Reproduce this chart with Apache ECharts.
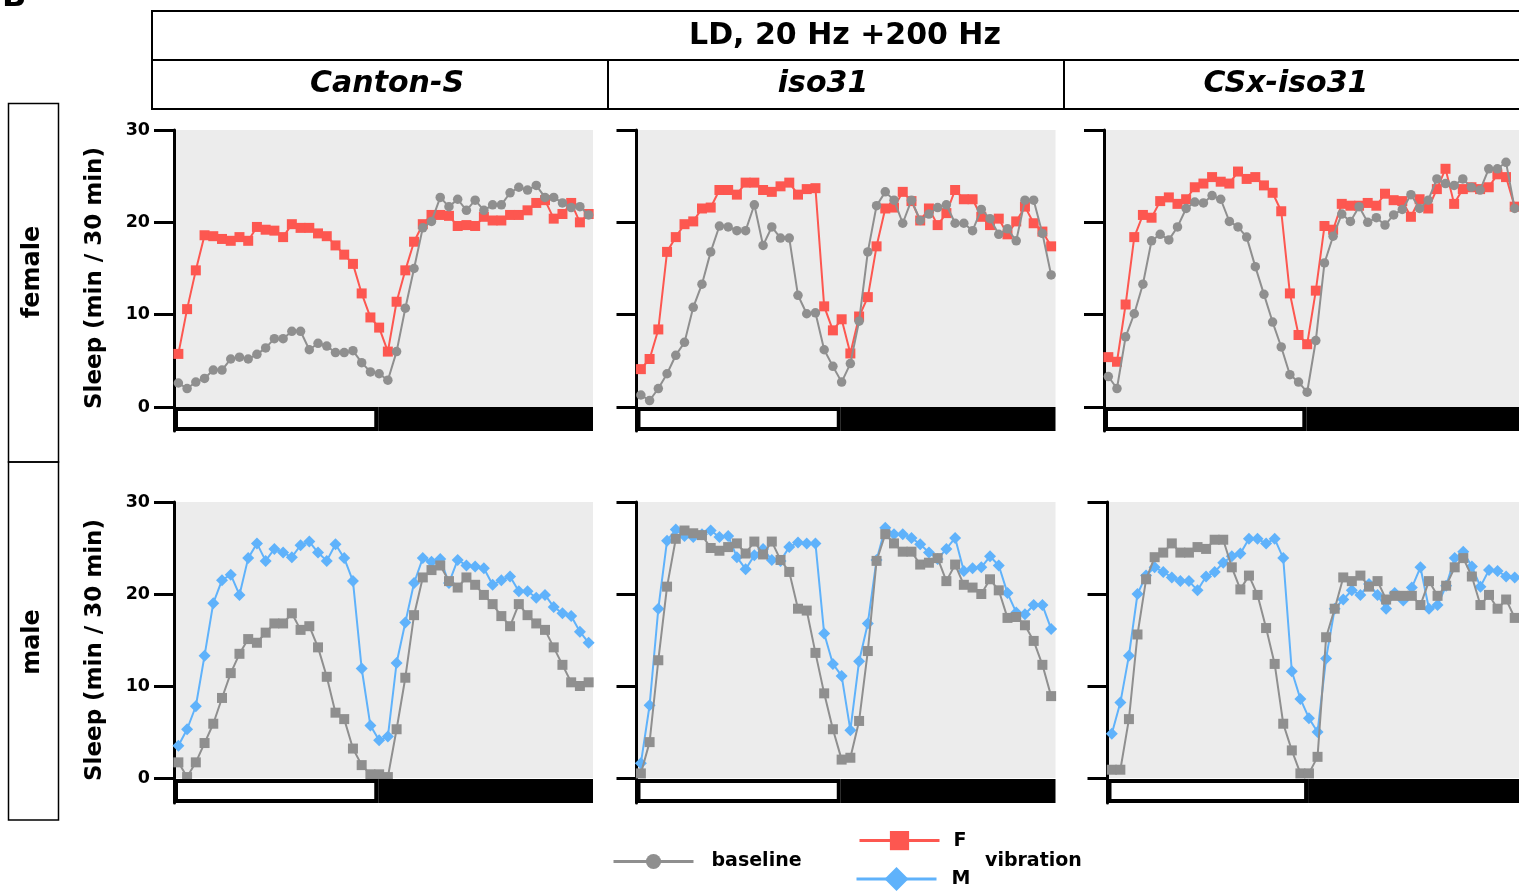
<!DOCTYPE html>
<html><head><meta charset="utf-8">
<script src="https://cdn.jsdelivr.net/npm/echarts@6/dist/echarts.min.js"></script>
<style>html,body{margin:0;padding:0;background:#fff}#c{width:1519px;height:895px}</style>
</head><body><div id="c"></div>
<script>
// ---------------- data ----------------
const mainTitle = 'LD, 20 Hz +200 Hz';
const strains = ['Canton-S', 'iso31', 'CSx-iso31'];
const sexes = ['female', 'male'];
const yAxisName = 'Sleep (min / 30 min)';
const yTicks = [0, 10, 20, 30];
const bins = [];
for (let i = 0; i < 48; i++) { bins.push('ZT' + (i * 0.5)); }
const ldPhaseNames = ['light', 'dark'];
const ldPhaseHours = [11.7, 12.3];

// female: baseline (grey circles) and vibration F (red squares)
const femaleBaseline_CantonS = [2.6,2.0,2.7,3.1,4.0,4.0,5.2,5.4,5.2,5.7,6.4,7.4,7.4,8.2,8.2,6.2,6.9,6.6,5.9,5.9,6.1,4.8,3.8,3.6,2.9,6.0,10.7,15.0,19.4,20.1,22.7,21.7,22.5,21.3,22.4,21.3,21.9,21.9,23.2,23.8,23.5,24.0,22.7,22.7,22.1,21.6,21.7,20.8];
const femaleVibration_CantonS = [5.75,10.6,14.8,18.6,18.5,18.2,18.0,18.4,18.0,19.5,19.2,19.1,18.4,19.8,19.4,19.4,18.8,18.5,17.5,16.5,15.5,12.3,9.7,8.6,6.0,11.4,14.8,17.9,19.8,20.8,20.8,20.7,19.6,19.7,19.6,20.6,20.2,20.2,20.8,20.8,21.3,22.1,22.4,20.4,20.9,22.1,20.0,20.9];
const femaleBaseline_iso31 = [1.3,0.7,2.0,3.6,5.6,7.0,10.8,13.3,16.8,19.6,19.5,19.1,19.1,21.9,17.5,19.5,18.3,18.3,12.1,10.1,10.2,6.2,4.4,2.7,4.7,9.3,16.8,21.8,23.3,22.4,19.9,22.4,20.2,20.9,21.6,21.9,19.9,19.9,19.1,21.4,20.4,18.7,19.3,18.0,22.4,22.4,18.8,14.3];
const femaleVibration_iso31 = [4.1,5.2,8.4,16.8,18.4,19.8,20.1,21.5,21.6,23.5,23.5,23.0,24.3,24.3,23.5,23.3,23.9,24.3,23.0,23.6,23.7,10.9,8.3,9.5,5.8,9.8,11.9,17.4,21.5,21.6,23.3,22.3,20.2,21.5,19.7,21.0,23.5,22.5,22.5,20.6,19.7,20.4,18.7,20.1,21.7,19.9,19.0,17.4];
const femaleBaseline_CSxIso31 = [3.3,2.0,7.6,10.1,13.3,18.0,18.7,18.1,19.5,21.5,22.2,22.1,22.9,22.5,20.1,19.5,18.4,15.2,12.2,9.2,6.5,3.5,2.7,1.6,7.2,15.6,18.5,20.9,20.1,21.7,20.0,20.5,19.7,20.8,21.4,23.0,21.5,22.4,24.7,24.2,24.0,24.7,23.8,23.5,25.8,25.8,26.5,21.5];
const femaleVibration_CSxIso31 = [5.4,4.9,11.1,18.4,20.8,20.5,22.3,22.7,22.0,22.5,23.8,24.2,24.9,24.4,24.2,25.5,24.7,24.9,24.0,23.2,21.2,12.3,7.8,6.8,12.6,19.6,19.2,22.0,21.8,21.8,22.1,21.8,23.1,22.4,22.3,20.6,22.5,21.5,23.6,25.8,22.0,23.6,23.8,23.6,23.8,25.2,24.9,21.7];

// male: baseline (grey squares) and vibration M (blue diamonds)
const maleBaseline_CantonS = [1.7,0.1,1.7,3.8,5.9,8.7,11.4,13.5,15.1,14.7,15.8,16.8,16.8,17.9,16.1,16.5,14.2,11.0,7.1,6.4,3.2,1.4,0.4,0.4,0.1,5.3,10.9,17.7,21.8,22.6,23.1,21.4,20.7,21.8,21.0,19.9,18.9,17.6,16.5,18.9,17.7,16.8,16.1,14.2,12.3,10.4,10.0,10.4];
const maleVibration_CantonS = [3.5,5.3,7.8,13.3,19.0,21.5,22.1,19.9,23.9,25.5,23.6,24.9,24.5,24.0,25.3,25.7,24.5,23.6,25.4,23.9,21.4,11.9,5.7,4.1,4.5,12.5,16.9,21.2,23.9,23.5,23.8,21.2,23.7,23.1,23.0,22.8,21.0,21.5,21.9,20.3,20.3,19.6,19.9,18.6,17.9,17.6,15.9,14.7];
const maleBaseline_iso31 = [0.5,3.9,12.8,20.8,26.0,26.9,26.6,26.4,25.0,24.7,25.1,25.5,24.4,25.7,24.3,25.7,23.7,22.4,18.4,18.2,13.6,9.2,5.3,2.0,2.2,6.2,13.8,23.6,26.5,25.5,24.6,24.6,23.2,23.4,23.9,21.4,23.2,21.0,20.7,20.0,21.6,20.4,17.4,17.5,16.6,14.9,12.3,8.9];
const maleVibration_iso31 = [1.6,7.9,18.4,25.8,27.0,26.3,26.2,26.5,26.9,26.2,26.3,24.0,22.7,24.2,24.9,23.7,23.6,25.1,25.6,25.5,25.5,15.7,12.4,11.1,5.2,12.7,16.8,23.7,27.2,26.5,26.5,26.1,25.4,24.5,23.8,24.9,26.1,22.5,22.8,22.9,24.1,23.1,20.1,18.0,17.8,18.8,18.8,16.2];
const maleBaseline_CSxIso31 = [0.9,0.9,6.4,15.6,21.6,24.0,24.5,25.5,24.5,24.5,25.1,24.9,25.9,25.9,22.9,20.5,22.0,19.9,16.3,12.4,5.9,3.0,0.5,0.5,2.3,15.3,18.4,21.8,21.4,22.0,20.8,21.4,19.4,19.8,19.8,19.8,18.8,21.4,19.8,20.9,22.9,23.9,21.9,18.8,19.9,18.4,19.4,17.4];
const maleVibration_CSxIso31 = [4.8,8.2,13.3,20.0,22.0,22.9,22.4,21.8,21.4,21.4,20.4,21.9,22.4,23.4,24.1,24.4,26.0,26.0,25.5,26.0,23.9,11.6,8.6,6.5,5.0,13.0,18.4,19.4,20.4,19.9,21.1,19.9,18.4,20.1,19.3,20.7,22.9,18.4,18.8,20.9,23.9,24.6,23.0,20.8,22.6,22.5,21.9,21.8];

const panels = [
  [[femaleBaseline_CantonS, femaleVibration_CantonS], [femaleBaseline_iso31, femaleVibration_iso31], [femaleBaseline_CSxIso31, femaleVibration_CSxIso31]],
  [[maleBaseline_CantonS, maleVibration_CantonS], [maleBaseline_iso31, maleVibration_iso31], [maleBaseline_CSxIso31, maleVibration_CSxIso31]]
];
const vibrationNames = ['F', 'M'];

// ---------------- styles / layout ----------------
const FONT = 'DejaVu Sans';
const GREY = '#8f8f8f', RED = '#fd5750', BLUE = '#5fb2fb', BG = '#ececec';
const rowTop = [130, 502], rowH = [277, 276];
const ldTop = [407, 779], ldH = 24;
const colLeft = [[174, 636.5, 1104], [174, 636.5, 1107.5]];
const colW = 419;
const vibColor = [RED, BLUE];
const vibSymbol = ['rect', 'diamond'];
const vibSize = [10, 12];
const baseSymbol = ['circle', 'rect'];
const baseSize = [9.5, 10];

const grid = [], xAxis = [], yAxis = [], series = [];
// main plot grids 0..5
for (let r = 0; r < 2; r++) {
  for (let c = 0; c < 3; c++) {
    const k = grid.length;
    grid.push({ left: colLeft[r][c], top: rowTop[r], width: colW, height: rowH[r], show: true, backgroundColor: BG, borderWidth: 0 });
    xAxis.push({ gridIndex: k, type: 'category', data: bins, boundaryGap: true, show: false });
    yAxis.push({ gridIndex: k, type: 'value', min: yTicks[0], max: yTicks[yTicks.length - 1], interval: 10,
      axisLine: { show: true, onZero: false, lineStyle: { color: '#000', width: 3 } },
      axisTick: { show: true, inside: false, length: 20, lineStyle: { color: '#000', width: 3 } },
      axisLabel: { show: c === 0, margin: 24, color: '#000', fontFamily: FONT, fontWeight: 'bold', fontSize: 17.5 },
      splitLine: { show: false } });
    const [base, vib] = panels[r][c];
    series.push({ name: vibrationNames[r], type: 'line', xAxisIndex: k, yAxisIndex: k, data: vib,
      symbol: vibSymbol[r], symbolSize: vibSize[r], color: vibColor[r], showAllSymbol: true,
      lineStyle: { width: 2, color: vibColor[r] }, itemStyle: { color: vibColor[r] }, z: 2, animation: false });
    series.push({ name: 'baseline', type: 'line', xAxisIndex: k, yAxisIndex: k, data: base,
      symbol: baseSymbol[r], symbolSize: baseSize[r], color: GREY, showAllSymbol: true,
      lineStyle: { width: 2, color: GREY }, itemStyle: { color: GREY }, z: 3, animation: false });
  }
}
// LD bars grids 6..11
for (let r = 0; r < 2; r++) {
  for (let c = 0; c < 3; c++) {
    const k = grid.length;
    grid.push({ left: colLeft[r][c], top: ldTop[r], width: colW, height: ldH, show: false });
    xAxis.push({ gridIndex: k, type: 'value', min: 0, max: 24, show: false });
    yAxis.push({ gridIndex: k, type: 'category', data: ['LD'], axisLine: { show: true, lineStyle: { color: '#000', width: 3 } },
      axisTick: { show: false }, axisLabel: { show: false } });
    ldPhaseNames.forEach((nm, p) => {
      series.push({ name: nm, type: 'bar', xAxisIndex: k, yAxisIndex: k, stack: 'ld' + k, data: [ldPhaseHours[p]],
        barWidth: '100%', silent: true, z: 4, animation: false,
        itemStyle: { color: p === 0 ? '#fff' : '#000', borderColor: '#000', borderWidth: 4 } });
    });
  }
}

const txt = (text, x, y, size, opts) => Object.assign({
  type: 'text', x: x, y: y,
  style: Object.assign({ text: text, fill: '#000', font: 'bold ' + size + 'px "' + FONT + '"', align: 'center', verticalAlign: 'middle' }, (opts && opts.style) || {})
}, opts && opts.el || {});

const lineG = (x1, y1, x2, y2, w) => ({ type: 'line', shape: { x1, y1, x2, y2 }, style: { stroke: '#000', lineWidth: w } });

const graphic = [
  txt('B', 2, 14, 32, { style: { align: 'left', verticalAlign: 'bottom' } }),
  { type: 'rect', shape: { x: 152, y: 11, width: 1420, height: 98 }, style: { fill: 'none', stroke: '#000', lineWidth: 2 } },
  lineG(152, 60, 1530, 60, 2),
  lineG(608, 60, 608, 109, 2),
  lineG(1064, 60, 1064, 109, 2),
  txt(mainTitle, 845, 36, 30),
  txt(strains[0], 387, 84, 30, { style: { font: 'italic bold 30px "' + FONT + '"' } }),
  txt(strains[1], 823, 84, 30, { style: { font: 'italic bold 30px "' + FONT + '"' } }),
  txt(strains[2], 1286, 84, 30, { style: { font: 'italic bold 30px "' + FONT + '"' } }),
  { type: 'rect', shape: { x: 8.5, y: 103.5, width: 50, height: 358.5 }, style: { fill: 'none', stroke: '#000', lineWidth: 1.5 } },
  { type: 'rect', shape: { x: 8.5, y: 462, width: 50, height: 358 }, style: { fill: 'none', stroke: '#000', lineWidth: 1.5 } },
  txt(sexes[0], 33, 272, 24, { el: { rotation: Math.PI / 2 } }),
  txt(sexes[1], 33, 642, 24, { el: { rotation: Math.PI / 2 } }),
  txt(yAxisName, 95, 278, 23, { el: { rotation: Math.PI / 2 } }),
  txt(yAxisName, 95, 650, 23, { el: { rotation: Math.PI / 2 } }),
  txt('vibration', 985, 861, 19, { style: { align: 'left' } })
];

const legTxt = (pad) => ({ fontFamily: FONT, fontWeight: 'bold', fontSize: 19, color: '#000', padding: [0, 0, 0, pad] });
const legend = [
  { data: ['baseline'], left: 612, top: 852, itemWidth: 80, itemHeight: 19, padding: 0, selectedMode: false, lineStyle: { width: 3 }, textStyle: legTxt(13) },
  { data: ['F'], left: 858, top: 831, itemWidth: 80, itemHeight: 24, padding: 0, selectedMode: false, lineStyle: { width: 3 }, textStyle: legTxt(9) },
  { data: ['M'], left: 855, top: 867, itemWidth: 80, itemHeight: 30, padding: 0, selectedMode: false, lineStyle: { width: 3 }, textStyle: legTxt(10) }
];

const chart = echarts.init(document.getElementById('c'), null, { renderer: 'canvas' });
chart.setOption({ animation: false, backgroundColor: '#fff', grid, xAxis, yAxis, series, legend, graphic });
</script>
</body></html>
